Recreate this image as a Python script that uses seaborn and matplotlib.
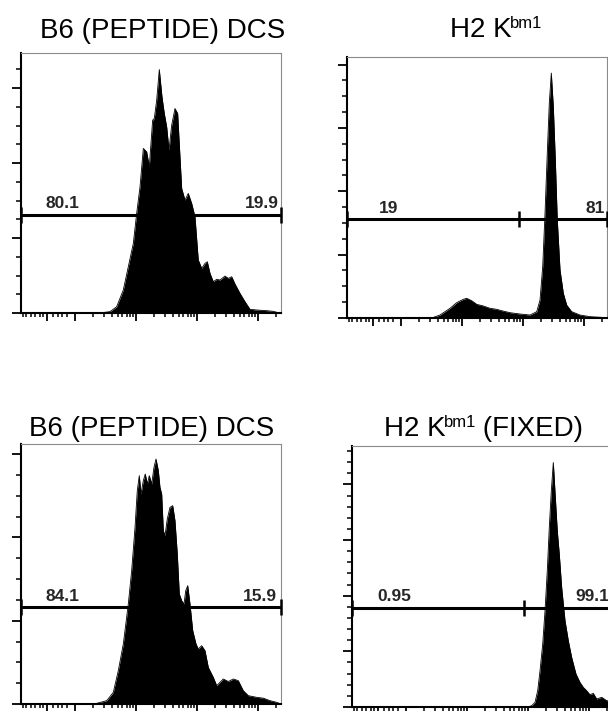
import numpy as np
import matplotlib
matplotlib.use("Agg")
import matplotlib.pyplot as plt
import seaborn as sns
from matplotlib.ticker import FixedLocator, MultipleLocator, NullFormatter

# --- histogram data: fluorescence (log decades) vs. cell count ---
b6_top_x = [-0.885, 0.40, 0.574, 0.683, 0.792, 0.874, 0.956, 1.011, 1.066, 1.120, 1.175, 1.218,
            1.273, 1.300, 1.339, 1.382, 1.426, 1.464, 1.503, 1.541, 1.585, 1.639, 1.683,
            1.721, 1.749, 1.803, 1.857, 1.913, 1.967, 2.021, 2.077, 2.131, 2.169, 2.213,
            2.267, 2.323, 2.377, 2.459, 2.513, 2.569, 2.623, 2.705, 2.787, 2.869, 2.979,
            3.143, 3.251, 3.333, 3.377]
b6_top_n = [0, 0, 1.8, 8.4, 30.7, 61.8, 92.9, 132.9, 168.4, 219.6, 215.1, 195.1,
            257.3, 259.6, 284.0, 324.9, 288.4, 266.2, 248.4, 217.3, 250.7, 272.9, 266.2,
            208.4, 166.2, 150.7, 159.6, 146.2, 128.4, 70.7, 59.6, 66.2, 68.4, 52.9,
            41.8, 44.9, 44.0, 49.3, 46.2, 48.4, 38.7, 26.2, 15.1, 4.9, 4.0,
            3.1, 2.2, 0.4, 0]

bm1_top_x = [-0.885, 0.503, 0.639, 0.803, 0.913, 1.021, 1.077, 1.159, 1.241, 1.349, 1.459,
             1.569, 1.651, 1.787, 1.951, 2.115, 2.225, 2.279, 2.323, 2.361, 2.398, 2.431,
             2.464, 2.497, 2.530, 2.562, 2.607, 2.661, 2.716, 2.798, 2.934, 3.098, 3.372, 3.377]
bm1_top_n = [0, 0, 4.7, 15.3, 24.2, 29.5, 31.1, 27.3, 21.6, 19.0, 15.3,
             13.7, 11.5, 8.4, 6.3, 4.7, 10.0, 28.4, 81.0, 165.4, 260.2, 339.2,
             386.6, 333.8, 249.6, 154.8, 75.8, 39.0, 20.5, 10.0, 4.7, 2.1, 0.5, 0]

b6_bot_x = [-0.885, 0.30, 0.356, 0.520, 0.628, 0.710, 0.792, 0.874, 0.929, 0.984, 1.021, 1.054,
            1.082, 1.120, 1.152, 1.185, 1.218, 1.257, 1.295, 1.328, 1.366, 1.393, 1.421,
            1.448, 1.475, 1.513, 1.557, 1.602, 1.639, 1.677, 1.710, 1.749, 1.787, 1.815,
            1.848, 1.885, 1.930, 1.984, 2.021, 2.077, 2.131, 2.185, 2.267, 2.323, 2.377,
            2.431, 2.513, 2.595, 2.677, 2.759, 2.841, 2.979, 3.087, 3.197, 3.307, 3.377]
b6_bot_n = [0, 0, 0.8, 4, 14, 40, 72, 120, 160, 212, 256, 274,
            252, 268, 276, 264, 274, 264, 284, 294, 280, 260, 252,
            208, 202, 222, 236, 238, 220, 180, 132, 124, 120, 136,
            142, 120, 88, 72, 66, 70, 64, 44, 32, 22, 26,
            30, 27, 30, 28, 16, 10, 8, 7, 4, 2, 0]

bm1_fix_x = [-0.885, 2.00, 2.061, 2.115, 2.159, 2.197, 2.241, 2.279, 2.316, 2.349, 2.382, 2.415,
             2.448, 2.480, 2.513, 2.552, 2.607, 2.661, 2.716, 2.787, 2.852, 2.907, 2.962,
             3.016, 3.070, 3.126, 3.208, 3.290, 3.377]
bm1_fix_n = [0, 0, 2.4, 8.4, 29.3, 65.2, 113.1, 173.0, 244.8, 322.6, 388.4, 439.3,
             376.4, 316.6, 274.7, 214.8, 155.0, 119.0, 89.0, 59.2, 44.3, 35.3, 29.3,
             22.1, 24.5, 14.4, 17.4, 11.4, 10.0]

# title pieces: (main text, superscript, trailing text)
titles = [("B6 (PEPTIDE) DCS", "", ""),
          ("H2 K", "bm1", ""),
          ("B6 (PEPTIDE) DCS", "", ""),
          ("H2 K", "bm1", " (FIXED)")]
gate_counts = [131, 156, 116, 178]
gate_left_pct = ["80.1", "19", "84.1", "0.95"]
gate_right_pct = ["19.9", "81", "15.9", "99.1"]

sns.set_theme(style="ticks")
plt.rcParams['font.family'] = ['Liberation Sans', 'DejaVu Sans']

W, H = 608, 711
fig = plt.figure(figsize=(W / 100, H / 100), dpi=100)
fig.patch.set_facecolor('white')
renderer = fig.canvas.get_renderer()

XMIN, XMAX = -0.885, 3.377

# layout in pixels: box = left, top, width, height; title: tx (centre or left), ty baseline
panels = [
    dict(x=b6_top_x, n=b6_top_n, box=(21, 53, 260, 260), ylim=347, ymin_step=25,
         tx=163, tha='center', ty=38, lx=-0.49, rx=3.34, rha='right', split=None),
    dict(x=bm1_top_x, n=bm1_top_n, box=(347, 57, 260, 261), ylim=412, ymin_step=25,
         tx=450, tha='left', ty=37, lx=-0.356, rx=3.03, rha='left', split=1.93),
    dict(x=b6_bot_x, n=b6_bot_n, box=(21, 444, 260, 260), ylim=312, ymin_step=25,
         tx=152, tha='center', ty=436, lx=-0.49, rx=3.31, rha='right', split=None),
    dict(x=bm1_fix_x, n=bm1_fix_n, box=(352, 446, 260, 261), ylim=469, ymin_step=20,
         tx=384, tha='left', ty=436, lx=-0.47, rx=2.77, rha='left', split=1.93),
]

# x ticks (flow-style log decades)
x_major = [-0.46, 0, 1, 2, 3]
x_minor = [-0.85, -0.80, -0.72, -0.65, -0.58, -0.52, -0.36, -0.28, -0.21, -0.13]
for d in range(4):
    for k in range(2, 10):
        v = d + np.log10(k)
        if v < XMAX:
            x_minor.append(v)

for i, p in enumerate(panels):
    l, t, w, h = p['box']
    ax = fig.add_axes([l / W, (H - t - h) / H, w / W, h / H])

    sns.lineplot(x=p['x'], y=p['n'], ax=ax, color='black', lw=0.6,
                 sort=False, estimator=None)
    ax.fill_between(p['x'], p['n'], 0, color='black', lw=0)

    ax.set_xlim(XMIN, XMAX)
    ax.set_ylim(0, p['ylim'])

    # gate bar
    g = gate_counts[i]
    ax.plot([XMIN, XMAX], [g, g], color='black', lw=2.2, solid_capstyle='butt',
            clip_on=False, zorder=5)
    ends = [XMIN, XMAX] + ([p['split']] if p['split'] else [])
    ax.plot(ends, [g] * len(ends), ls='none', marker='|', ms=11, mew=1.8,
            color='black', clip_on=False, zorder=6)
    ax.annotate(gate_left_pct[i], xy=(p['lx'], g), xytext=(0, 2.5),
                textcoords='offset points', ha='left', va='bottom',
                fontsize=12.5, fontweight='bold', annotation_clip=False)
    ax.annotate(gate_right_pct[i], xy=(p['rx'], g), xytext=(0, 2.5),
                textcoords='offset points', ha=p['rha'], va='bottom',
                fontsize=12.5, fontweight='bold', annotation_clip=False)

    # axes styling
    ax.set_facecolor('white')
    ax.grid(False)
    for side in ['left', 'bottom']:
        ax.spines[side].set_color('black')
        ax.spines[side].set_linewidth(1.5)
    for side in ['top', 'right']:
        ax.spines[side].set_visible(True)
        ax.spines[side].set_color('#8a8a8a')
        ax.spines[side].set_linewidth(0.8)

    ax.xaxis.set_major_locator(FixedLocator(x_major))
    ax.xaxis.set_minor_locator(FixedLocator(x_minor))
    ax.yaxis.set_major_locator(MultipleLocator(100))
    ax.yaxis.set_minor_locator(MultipleLocator(p['ymin_step']))
    ax.xaxis.set_major_formatter(NullFormatter())
    ax.yaxis.set_major_formatter(NullFormatter())
    ax.tick_params(axis='x', which='major', direction='out', length=6, width=1.3,
                   color='black', bottom=True, top=False)
    ax.tick_params(axis='x', which='minor', direction='out', length=3, width=1.1,
                   color='black', bottom=True, top=False)
    ax.tick_params(axis='y', which='major', direction='out', length=6.5, width=1.3,
                   color='black', left=True, right=False)
    ax.tick_params(axis='y', which='minor', direction='out', length=3.5, width=1.1,
                   color='black', left=True, right=False)
    ax.set_xlabel('')
    ax.set_ylabel('')

    # title, with a hand-placed superscript
    main, sup, tail = titles[i]
    t1 = fig.text(p['tx'] / W, 1 - p['ty'] / H, main, ha=p['tha'], va='baseline',
                  fontsize=20, color='black')
    if sup:
        x_px = t1.get_window_extent(renderer).x1 - 2
        t2 = fig.text(x_px / W, 1 - (p['ty'] - 9) / H, sup, ha='left', va='baseline',
                      fontsize=12, color='black')
        if tail:
            x_px = t2.get_window_extent(renderer).x1 - 1
            fig.text(x_px / W, 1 - p['ty'] / H, tail, ha='left', va='baseline',
                     fontsize=20, color='black')

fig.savefig('out.png', dpi=100, facecolor='white')
